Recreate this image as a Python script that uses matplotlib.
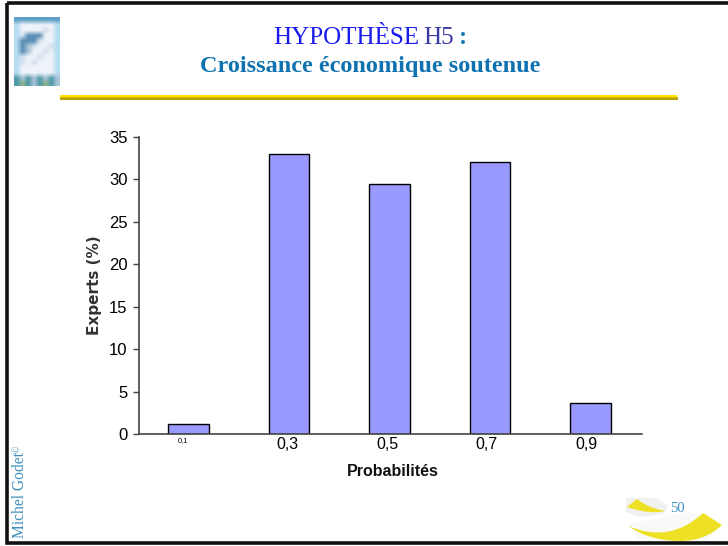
#!/usr/bin/env python3
"""Slide with the expert probability histogram for hypothesis H5."""

import matplotlib
matplotlib.use('Agg')
import matplotlib.pyplot as plt
import numpy as np
from matplotlib.colors import to_rgb
from matplotlib.patches import Polygon, Rectangle, FancyBboxPatch, PathPatch
from matplotlib.path import Path
from matplotlib.transforms import ScaledTranslation

categories = ['0,1', '0,3', '0,5', '0,7', '0,9']
experts = [1.2, 33, 29.5, 32, 3.7]
y_ticks = [0, 5, 10, 15, 20, 25, 30, 35]
# the source slide has its x labels sitting a little left of the bars (pixels)
label_shift = [-5, -1.5, -2.5, -3.5, -4]

# rough thumbnail of the logo, one letter per cell
logo_rows = [
    'bbbbbbbb',
    'cwwwwwwc',
    'cwwwwpwc',
    'cpdddwwc',
    'cdddpwwc',
    'cdgpwwpc',
    'cdgwwpwc',
    'cpwwpwwc',
    'cpwpwwwc',
    'cwwwwwwc',
    'cwwwwwwc',
    'tgtgtgtg',
    'tytgtytg',
]
logo_colors = {'b': '#5f9fc8', 'c': '#b5dcf2', 'w': '#eef3f9', 'p': '#d3e0ec',
               'd': '#5c8fb5', 'g': '#a8c4d8', 't': '#4f9aa8', 'y': '#8fb28a'}

W, H = 728, 546
fig = plt.figure(figsize=(W / 100, H / 100), dpi=100, facecolor='white')

# overlay in pixel coordinates for the slide decoration
bg = fig.add_axes([0, 0, 1, 1])
bg.axis('off')

# logo, top left
logo = np.array([[to_rgb(logo_colors[c]) for c in row] for row in logo_rows])
bg.imshow(logo, extent=(14, 60, 86, 17), interpolation='bilinear', aspect='auto')
bg.set_xlim(0, W)
bg.set_ylim(H, 0)

# slide frame
bg.add_patch(Rectangle((7, 3), 740, 540, fill=False, edgecolor='#111111', linewidth=2.6))

# title
bg.text(273, 37.5, 'HYPOTHÈSE', family='Liberation Serif', fontsize=18, color='#1a1aee', ha='left', va='center')
bg.text(423, 37.5, 'H5', family='Liberation Serif', fontsize=18, color='#3b3ba8', ha='left', va='center')
bg.text(459, 37.5, ':', family='Liberation Serif', fontsize=18, fontweight='bold', color='#1c7ab5', ha='left', va='center')
bg.text(370, 66.5, 'Croissance économique soutenue', family='Liberation Serif', fontsize=17.5,
        fontweight='bold', color='#0f72b0', ha='center', va='center')

# yellow rule under the title
bg.add_patch(Rectangle((60, 97), 618, 2.5, facecolor='#b8a400', edgecolor='none'))
bg.add_patch(FancyBboxPatch((60, 95), 617, 2.4, boxstyle='round,pad=0,rounding_size=1',
                            facecolor='#ffe000', edgecolor='none'))

# side credit
bg.text(20.5, 538, 'Michel Godet', family='Liberation Serif', fontsize=11.2, color='#3f8fbe',
        rotation=90, ha='center', va='bottom')
bg.text(17, 453, '©', family='Liberation Serif', fontsize=7, color='#3f8fbe',
        rotation=90, ha='center', va='bottom')

# page ornament, bottom right
bg.add_patch(Polygon([[626, 498], [656, 498], [668, 506], [664, 514], [640, 517], [626, 512]],
                     facecolor='#f1f1ef', edgecolor='none'))
bg.add_patch(Polygon([[628, 524], [690, 512], [722, 524], [708, 541], [640, 541]],
                     facecolor='#f9f9f7', edgecolor='none'))
top_swoosh = Path([(627, 507), (637, 499), (648, 508), (665, 511), (650, 515), (627, 507), (627, 507)],
                  [Path.MOVETO, Path.LINETO, Path.CURVE3, Path.CURVE3, Path.CURVE3, Path.CURVE3,
                   Path.CLOSEPOLY])
low_swoosh = Path([(628, 526), (670, 544), (703, 513), (722, 525), (705, 541), (680, 541), (650, 541),
                   (628, 526), (628, 526)],
                  [Path.MOVETO, Path.CURVE3, Path.CURVE3, Path.LINETO, Path.CURVE3, Path.CURVE3,
                   Path.CURVE3, Path.CURVE3, Path.CLOSEPOLY])
bg.add_patch(PathPatch(top_swoosh, facecolor='#eee024', edgecolor='none'))
bg.add_patch(PathPatch(low_swoosh, facecolor='#eee024', edgecolor='none'))
bg.text(677, 509, '50', family='Liberation Serif', fontsize=10.5, color='#3f95c8', ha='center', va='center')

# chart
ax = fig.add_axes([139 / W, 1 - 434 / H, 503 / W, 297 / H])
ax.patch.set_alpha(0)
x = list(range(len(categories)))
ax.bar(x, experts, width=0.405, color='#9999ff', edgecolor='black', linewidth=1)
ax.set_xlim(-0.49, 4.51)
ax.set_ylim(0, 35)
ax.set_yticks(y_ticks)
ax.tick_params(axis='y', labelsize=12, length=4.3, width=1, color='#444444', pad=4)
ax.set_xticks(x)
ax.set_xticklabels(categories, family='Liberation Sans')
ax.tick_params(axis='x', labelsize=11.5, length=0, pad=2.5)
ax.get_xticklabels()[0].set_fontsize(5.5)
for lab, dx in zip(ax.get_xticklabels(), label_shift):
    lab.set_transform(lab.get_transform() + ScaledTranslation(dx / 100, 0, fig.dpi_scale_trans))
for lab in ax.get_yticklabels():
    lab.set_family('Liberation Sans')
for side in ['top', 'right']:
    ax.spines[side].set_visible(False)
for side in ['left', 'bottom']:
    ax.spines[side].set_color('#444444')
    ax.spines[side].set_linewidth(1.2)

bg.text(392.5, 472, 'Probabilités', family='Liberation Sans', fontsize=11.5, fontweight='bold',
        ha='center', va='center', color='#111111')
bg.text(95, 285, 'Experts (%)', family='DejaVu Sans', fontsize=11, fontweight='bold',
        rotation=90, ha='center', va='center', color='#333333')

plt.savefig('out.png', dpi=100, facecolor='white')
plt.close()
